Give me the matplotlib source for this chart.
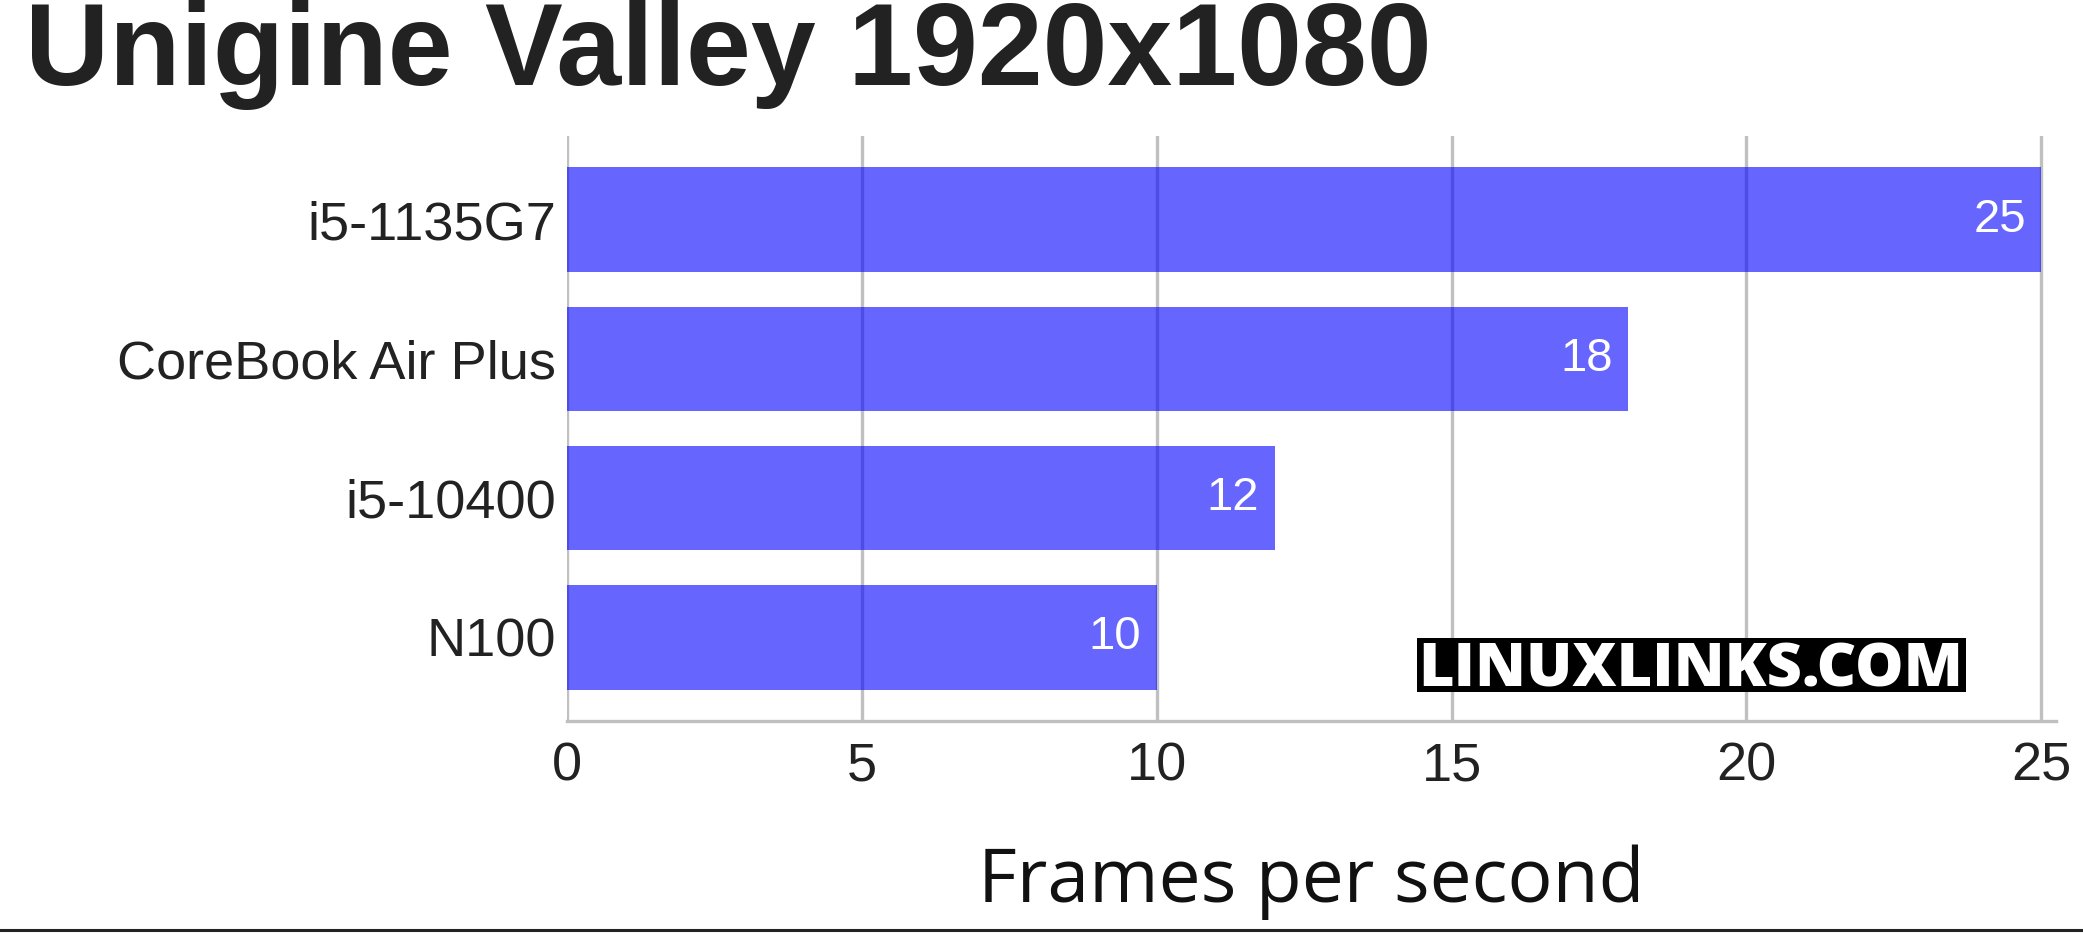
import matplotlib
matplotlib.use("Agg")
import matplotlib.pyplot as plt
from matplotlib.patches import Rectangle
from matplotlib.lines import Line2D

# chart data
systems = ["i5-1135G7", "CoreBook Air Plus", "i5-10400", "N100"]
fps = [25, 18, 12, 10]
xticks = [0, 5, 10, 15, 20, 25]

title = "Unigine Valley 1920x1080"
xlabel = "Frames per second"
watermark = "LINUXLINKS.COM"


def main():
    fig = plt.figure(figsize=(20.83, 9.34), dpi=100)
    ax = fig.add_axes([0.2722, 0.2281, 0.7148, 0.6263])

    ypos = list(range(len(systems)))
    ax.barh(ypos, fps, height=0.75, color="blue", alpha=0.6, zorder=2)
    for y, v in zip(ypos, fps):
        ax.annotate(str(v), xy=(v, y), xytext=(-11, 0),
                    textcoords="offset points", ha="right", va="center",
                    color="white", fontsize=34, family="Liberation Sans",
                    zorder=3)

    ax.set_xlim(0, 25.25)
    ax.set_ylim(3.6, -0.6)
    ax.set_yticks(ypos)
    ax.set_yticklabels(systems, family="Liberation Sans", fontsize=39,
                       color="#222222")
    ax.set_xticks(xticks)
    ax.set_xticklabels([str(t) for t in xticks], family="Liberation Sans",
                       fontsize=39, color="#222222")
    ax.tick_params(axis="y", length=0, pad=8)
    ax.tick_params(axis="x", length=0, pad=15)

    ax.set_axisbelow(True)
    ax.xaxis.grid(True, color="#c0c0c0", linewidth=2.4, zorder=1)
    for side in ["top", "right", "left"]:
        ax.spines[side].set_visible(False)
    ax.spines["bottom"].set_color("#c0c0c0")
    ax.spines["bottom"].set_linewidth(2.4)

    ax.set_xlabel(xlabel, family="Open Sans", fontsize=54, color="#111111",
                  labelpad=38)

    fig.text(0.012, 0.909, title, family="Liberation Sans", weight="bold",
             fontsize=84, color="#222222", ha="left", va="baseline")

    # watermark box
    fig.add_artist(Rectangle((0.6803, 0.2591), 0.2636, 0.0578,
                             transform=fig.transFigure, facecolor="black",
                             edgecolor="none", zorder=5))
    fig.text(0.8116, 0.2655, watermark, family="Open Sans", weight=800,
             fontsize=44, color="white", ha="center", va="baseline",
             zorder=6)

    fig.add_artist(Line2D([0, 1], [0.0043, 0.0043], transform=fig.transFigure,
                          color="#222222", linewidth=2.2))

    fig.savefig("out.png", dpi=100)


if __name__ == "__main__":
    main()
